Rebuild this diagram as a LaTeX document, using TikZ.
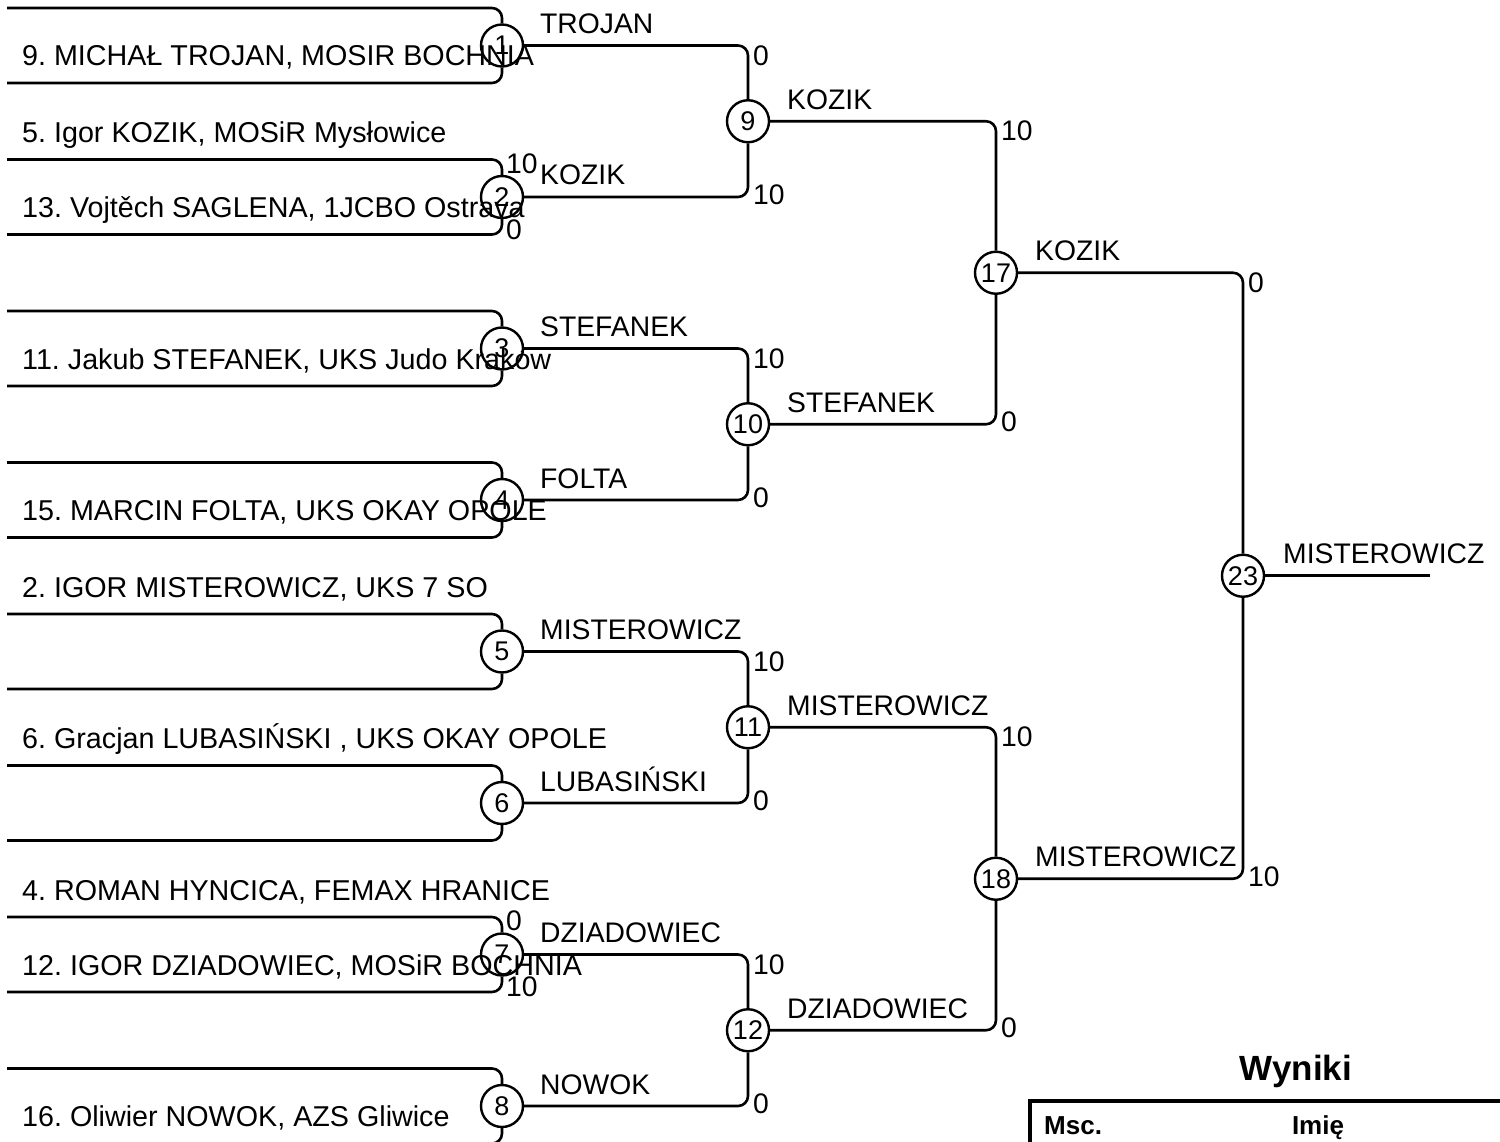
\documentclass[tikz,border=0pt]{standalone}
\usepackage{fontspec}
\setmainfont{Liberation Sans}
\frenchspacing
\newcommand\fsA{\fontsize{28.3}{30}\selectfont}
\newcommand\fsB{\fontsize{28.7}{30}\selectfont}
\newcommand\fsC{\fontsize{27}{28}\selectfont}
\tikzset{
 conn/.style={line width=2.6pt, rounded corners=10pt},
 mc/.style={circle, draw, line width=2.4pt, minimum size=42pt, inner sep=0pt, font=\fsC},
 pname/.style={anchor=base west, inner sep=0pt, font=\fsB},
 wlabel/.style={anchor=base west, inner sep=0pt, font=\fsA},
 score/.style={anchor=west, inner sep=0pt, font=\fsA},
 thead/.style={font=\bfseries\fontsize{26}{28}\selectfont, inner sep=0pt},
}
\begin{document}
\begin{tikzpicture}[x=1pt,y=-1pt]
\useasboundingbox (0,0) rectangle (1500,1142);
% round 1 circles
\node[mc] (m1) at (502,45.5) {1};
\node[mc] (m2) at (502,197) {2};
\node[mc] (m3) at (502,348.5) {3};
\node[mc] (m4) at (502,500) {4};
\node[mc] (m5) at (502,651.5) {5};
\node[mc] (m6) at (502,803) {6};
\node[mc] (m7) at (502,954.5) {7};
\node[mc] (m8) at (502,1106) {8};
% round 2
\node[mc] (m9) at (748,121.25) {9};
\node[mc] (m10) at (748,424.25) {10};
\node[mc] (m11) at (748,727.25) {11};
\node[mc] (m12) at (748,1030.25) {12};
% round 3
\node[mc] (m17) at (996,272.75) {17};
\node[mc] (m18) at (996,878.75) {18};
% final
\node[mc] (m23) at (1243,575.75) {23};
\coordinate (fin) at (1430,575.75);

% bracket start coordinates
\coordinate (t1) at (7,8);      \coordinate (b1) at (7,83);
\coordinate (t2) at (7,159.5);  \coordinate (b2) at (7,234.5);
\coordinate (t3) at (7,311);    \coordinate (b3) at (7,386);
\coordinate (t4) at (7,462.5);  \coordinate (b4) at (7,537.5);
\coordinate (t5) at (7,614);    \coordinate (b5) at (7,689);
\coordinate (t6) at (7,765.5);  \coordinate (b6) at (7,840.5);
\coordinate (t7) at (7,917);    \coordinate (b7) at (7,992);
\coordinate (t8) at (7,1068.5); \coordinate (b8) at (7,1143.5);

\foreach \i in {1,...,8}{
  \draw[conn] (t\i) -| (m\i.north);
  \draw[conn] (b\i) -| (m\i.south);
}
% round 1 -> round 2
\draw[conn] (m1.east) -| (m9.north);
\draw[conn] (m2.east) -| (m9.south);
\draw[conn] (m3.east) -| (m10.north);
\draw[conn] (m4.east) -| (m10.south);
\draw[conn] (m5.east) -| (m11.north);
\draw[conn] (m6.east) -| (m11.south);
\draw[conn] (m7.east) -| (m12.north);
\draw[conn] (m8.east) -| (m12.south);
% round 2 -> round 3
\draw[conn] (m9.east) -| (m17.north);
\draw[conn] (m10.east) -| (m17.south);
\draw[conn] (m11.east) -| (m18.north);
\draw[conn] (m12.east) -| (m18.south);
% round 3 -> final
\draw[conn] (m17.east) -| (m23.north);
\draw[conn] (m18.east) -| (m23.south);
\draw[conn] (m23.east) -- (fin);

% player names
\node[pname] (p1) at (22,66) {9. MICHAŁ TROJAN, MOSIR BOCHNIA};
\node[pname] (p2) at (22,142.5) {5. Igor KOZIK, MOSiR Mysłowice};
\node[pname] (p3) at (22,217.5) {13. Vojtěch SAGLENA, 1JCBO Ostrava};
\node[pname] (p4) at (22,369) {11. Jakub STEFANEK, UKS Judo Kraków};
\node[pname] (p5) at (22,520.5) {15. MARCIN FOLTA, UKS OKAY OPOLE};
\node[pname] (p6) at (22,597) {2. IGOR MISTEROWICZ, UKS 7 SO};
\node[pname] (p7) at (22,748.5) {6. Gracjan LUBASIŃSKI , UKS OKAY OPOLE};
\node[pname] (p8) at (22,900) {4. ROMAN HYNCICA, FEMAX HRANICE};
\node[pname] (p9) at (22,975) {12. IGOR DZIADOWIEC, MOSiR BOCHNIA};
\node[pname] (p10) at (22,1126.5) {16. Oliwier NOWOK, AZS Gliwice};

% winner labels
\node[wlabel] (w1) at (540,33.5) {TROJAN};
\node[wlabel] (w2) at (540,185) {KOZIK};
\node[wlabel] (w3) at (540,336.5) {STEFANEK};
\node[wlabel] (w4) at (540,488) {FOLTA};
\node[wlabel] (w5) at (540,639.5) {MISTEROWICZ};
\node[wlabel] (w6) at (540,791) {LUBASIŃSKI};
\node[wlabel] (w7) at (540,942.5) {DZIADOWIEC};
\node[wlabel] (w8) at (540,1094) {NOWOK};
\node[wlabel] (w9) at (787,109.25) {KOZIK};
\node[wlabel] (w10) at (787,412.25) {STEFANEK};
\node[wlabel] (w11) at (787,715.25) {MISTEROWICZ};
\node[wlabel] (w12) at (787,1018.25) {DZIADOWIEC};
\node[wlabel] (w17) at (1035,260.75) {KOZIK};
\node[wlabel] (w18) at (1035,866.75) {MISTEROWICZ};
\node[wlabel] (w23) at (1283,563.75) {MISTEROWICZ};

% scores round 1
\node[score] (s2a) at (506,163.5) {10};
\node[score] (s2b) at (506,229.5) {0};
\node[score] (s7a) at (506,921) {0};
\node[score] (s7b) at (506,987) {10};
% scores round 2
\node[score] (s9a) at (753,55.5) {0};
\node[score] (s9b) at (753,195) {10};
\node[score] (s10a) at (753,358.5) {10};
\node[score] (s10b) at (753,498) {0};
\node[score] (s11a) at (753,661.5) {10};
\node[score] (s11b) at (753,801) {0};
\node[score] (s12a) at (753,964.5) {10};
\node[score] (s12b) at (753,1104) {0};
% scores round 3
\node[score] (s17a) at (1001,131.25) {10};
\node[score] (s17b) at (1001,422.25) {0};
\node[score] (s18a) at (1001,737.25) {10};
\node[score] (s18b) at (1001,1028.25) {0};
% scores final
\node[score] (s23a) at (1248,282.75) {0};
\node[score] (s23b) at (1248,876.75) {10};

% results table
\node[font=\bfseries\fontsize{35}{37}\selectfont, anchor=base, inner sep=0pt] (wyn) at (1296,1080) {Wyniki};
\draw[line width=4pt] (1030,1150) -- (1030,1101) -- (1510,1101);
\node[thead, anchor=base west] (hmsc) at (1044,1134) {Msc.};
\node[thead, anchor=base] (himie) at (1318,1134) {Imię};
\end{tikzpicture}
\end{document}
